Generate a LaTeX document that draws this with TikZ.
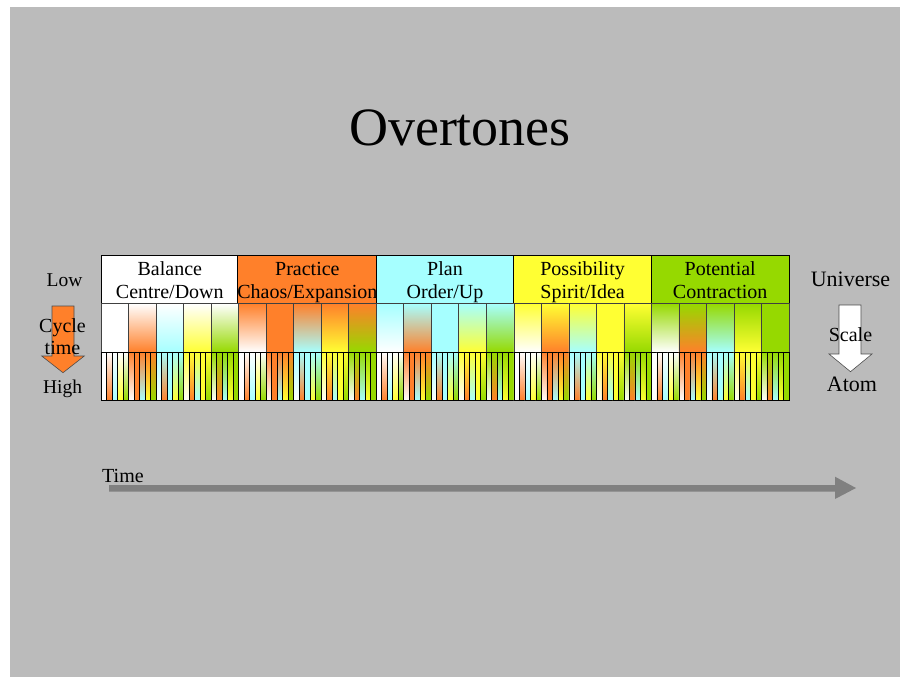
\documentclass[tikz,border=0pt]{standalone}
\usepackage{fontspec}
\setmainfont{Liberation Serif}

\definecolor{slide}{RGB}{187,187,187}
\definecolor{tone1}{RGB}{255,255,255}
\definecolor{tone2}{RGB}{255,128,42}
\definecolor{tone3}{RGB}{166,255,255}
\definecolor{tone4}{RGB}{255,255,51}
\definecolor{tone5}{RGB}{150,217,0}

% struts that keep the two lines of a header cell on the same baselines
\newcommand\topline{\rule{0pt}{19.5pt}}
\newcommand\botline{\rule[-4.9pt]{0pt}{4.9pt}}

\begin{document}
\begin{tikzpicture}[x=1pt,y=-1pt,
    cell/.style={draw,line width=0.8pt,minimum width=137.6pt,minimum height=48.5pt,inner sep=0pt,align=center,font=\fontsize{20}{23}\selectfont},
    word/.style={inner sep=0pt,font=\fontsize{20}{21.5}\selectfont}]
  \fill[white] (0,0) rectangle (900,677);
  \useasboundingbox (0,0) rectangle (900,677);
  \fill[slide] (10,7) rectangle (900,677);

  \node[anchor=base,inner sep=0pt,font=\fontsize{54}{60}\selectfont] (title) at (460,145) {Overtones};

  \node[cell,fill=tone1] (1) at (169.8,279.2) {\topline Balance\\Centre/Down\botline};
  \node[cell,fill=tone2] (2) at (307.4,279.2) {\topline Practice\\Chaos/Expansion\botline};
  \node[cell,fill=tone3] (3) at (445.0,279.2) {\topline Plan\\Order/Up\botline};
  \node[cell,fill=tone4] (4) at (582.6,279.2) {\topline Possibility\\Spirit/Idea\botline};
  \node[cell,fill=tone5] (5) at (720.2,279.2) {\topline Potential\\Contraction\botline};

  % second and third rows: blends between the five tones
  \foreach \i in {1,...,5}
    \foreach \j in {1,...,5} {
      \pgfmathsetmacro\xa{101+(5*\i+\j-6)*27.52}
      \shade[draw=black!75,line width=0.6pt,top color=tone\i,bottom color=tone\j] (\xa,303.5) rectangle +(27.52,48.5);
      \foreach \k in {1,...,5}
        \shade[draw=black,line width=0.6pt,top color=tone\j,bottom color=tone\k] ({\xa+(\k-1)*5.504},352) rectangle +(5.504,48.5);
    }

  % block arrows
  \filldraw[fill=tone2,draw=black!70,line width=0.6pt] (52,306) -- (74,306) -- (74,356) -- (84.3,356) -- (63,372.7) -- (41.7,356) -- (52,356) -- cycle;
  \filldraw[fill=white,draw=black!70,line width=0.6pt] (839,305) -- (861,305) -- (861,354) -- (872,354) -- (850.5,371.7) -- (829,354) -- (839,354) -- cycle;
  \fill[black!50] (109,485) -- (835,485) -- (835,476.7) -- (856,488) -- (835,499) -- (835,491.7) -- (109,491.7) -- cycle;

  \node[word,anchor=base,font=\fontsize{19.5}{22}\selectfont] (low) at (64.5,286.7) {Low};
  \node[word,anchor=base,font=\fontsize{19.5}{22}\selectfont] (high) at (62.5,393) {High};
  \node[word,align=center] (cycle) at (62.5,336.5) {Cycle\\time};

  \node[word,anchor=base,font=\fontsize{22}{24}\selectfont] (universe) at (850.5,286.7) {Universe};
  \node[word,anchor=base,font=\fontsize{22}{24}\selectfont] (atom) at (852,391.7) {Atom};
  \node[word,anchor=base] (scale) at (850.5,341.7) {Scale};

  \node[word,anchor=base west] (time) at (102,482) {Time};
\end{tikzpicture}
\end{document}
